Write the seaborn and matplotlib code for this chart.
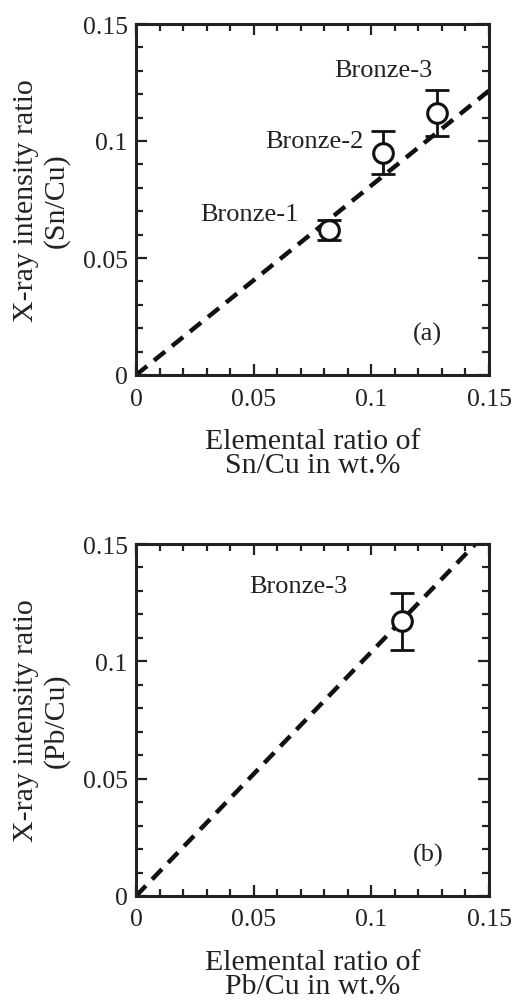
import matplotlib
matplotlib.use("Agg")
import matplotlib.pyplot as plt
import seaborn as sns
import pandas as pd
from matplotlib.ticker import MultipleLocator, FixedLocator, FixedFormatter

# ---- data ----
sn_samples = ["Bronze-1", "Bronze-2", "Bronze-3"]
sn_x = [0.082, 0.105, 0.128]
sn_y = [0.062, 0.095, 0.112]
sn_err = [0.0043, 0.0092, 0.0098]
sn_fit_x = [0.0, 0.15]
sn_fit_y = [0.0, 0.1215]

pb_samples = ["Bronze-3"]
pb_x = [0.113]
pb_y = [0.117]
pb_err = [0.012]
pb_fit_x = [0.0, 0.15]
pb_fit_y = [0.0, 0.156]

tick_vals = [0, 0.05, 0.1, 0.15]
tick_labels = ["0", "0.05", "0.1", "0.15"]

sns.set_theme(style="ticks")
plt.rcParams["font.family"] = ["Liberation Serif", "DejaVu Serif"]

fig = plt.figure(figsize=(5.12, 10.03), dpi=100)
W, H = 512, 1003
ax1 = fig.add_axes([136 / W, 1 - 376 / H, 353 / W, 351 / H])
ax2 = fig.add_axes([136 / W, 1 - 897 / H, 353 / W, 352 / H])


def style(ax, xlabel, ylabel):
    ax.set_xlim(0, 0.15)
    ax.set_ylim(0, 0.15)
    for a in (ax.xaxis, ax.yaxis):
        a.set_major_locator(FixedLocator(tick_vals))
        a.set_major_formatter(FixedFormatter(tick_labels))
        a.set_minor_locator(MultipleLocator(0.01))
    ax.tick_params(which="both", direction="in", top=True, right=True,
                   colors="#222222", labelcolor="#222222", labelsize=18.5, width=1.6)
    ax.tick_params(which="major", length=8, pad=6)
    ax.tick_params(axis="x", which="major", pad=9)
    ax.tick_params(which="minor", length=5)
    for s in ax.spines.values():
        s.set_linewidth(2.2)
        s.set_color("#222222")
    ax.set_xlabel(xlabel, fontsize=21.5, color="#222222", labelpad=13, linespacing=0.93)
    ax.set_ylabel(ylabel, fontsize=21.5, color="#222222", labelpad=9, linespacing=1.22)


def panel(ax, xs, ys, errs, names, fx, fy, label_pos, tag):
    df = pd.DataFrame({"x": fx, "y": fy})
    sns.lineplot(data=df, x="x", y="y", ax=ax, color="#111111", lw=3.2,
                 linestyle=(0, (3.2, 2.0)), legend=False)
    ax.errorbar(xs, ys, yerr=errs, fmt="none", ecolor="#111111", elinewidth=2,
                capsize=8.5, capthick=2, zorder=3)
    pts = pd.DataFrame({"x": xs, "y": ys})
    sns.scatterplot(data=pts, x="x", y="y", ax=ax, s=200, facecolor="white",
                    edgecolor="#111111", linewidth=2.2, zorder=4, legend=False)
    for name, (tx, ty) in zip(names, label_pos):
        ax.text(tx, ty, name, fontsize=19, ha="center", va="center", color="#222222")
    ax.text(0.124, 0.0178, tag, fontsize=19, ha="center", va="center", color="#222222")


panel(ax1, sn_x, sn_y, sn_err, sn_samples, sn_fit_x, sn_fit_y,
      [(0.0484, 0.0688), (0.076, 0.1001), (0.105, 0.1305)], "(a)")
style(ax1, "Elemental ratio of\nSn/Cu in wt.%", "X-ray intensity ratio\n(Sn/Cu)")

panel(ax2, pb_x, pb_y, pb_err, pb_samples, pb_fit_x, pb_fit_y,
      [(0.0688, 0.1322)], "(b)")
style(ax2, "Elemental ratio of\nPb/Cu in wt.%", "X-ray intensity ratio\n(Pb/Cu)")

fig.savefig("out.png", dpi=100)
